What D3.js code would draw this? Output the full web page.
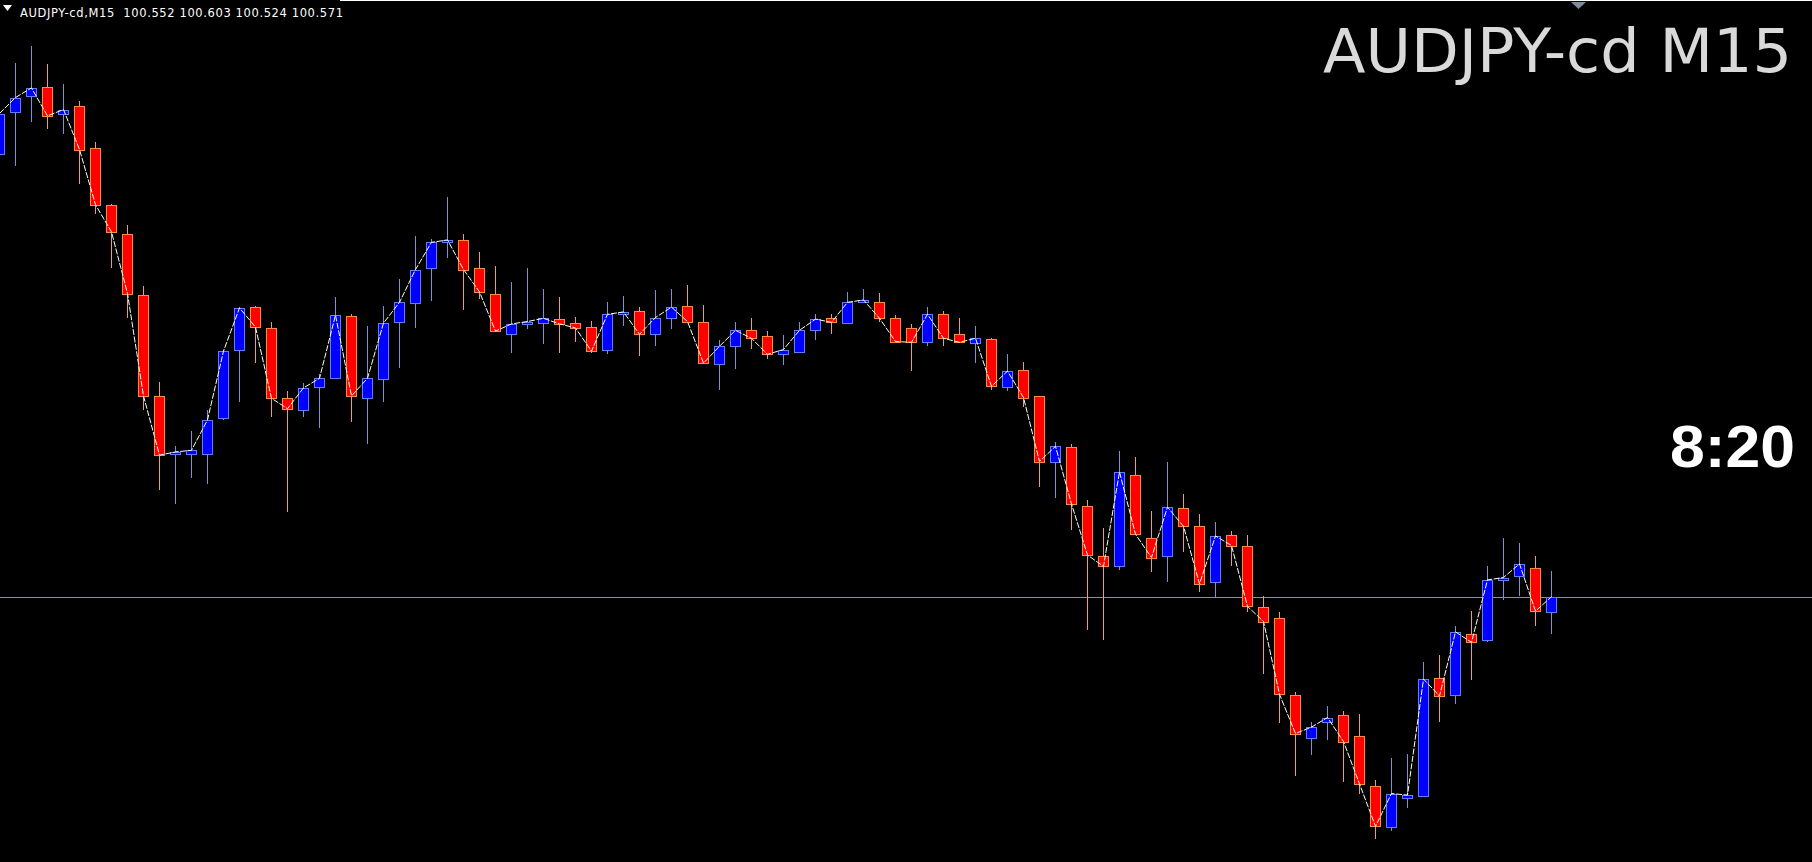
<!DOCTYPE html>
<html>
<head>
<meta charset="utf-8">
<script src="https://cdn.jsdelivr.net/npm/d3@7/dist/d3.min.js"></script>
<style>
  html, body { margin: 0; padding: 0; background: #000; overflow: hidden; }
  svg { display: block; }
</style>
</head>
<body>
<svg id="chart" width="1812" height="862"></svg>
<script>
// ---- data (AUDJPY-cd, M15) ----
const symbol = "AUDJPY-cd";
const timeframe = "M15";
const clockText = "8:20";
const opens = [101.124,101.177,101.197,101.208,101.174,101.184,101.132,101.061,101.024,100.948,
  100.822,100.749,100.749,100.750,100.794,100.879,100.933,100.907,100.820,100.805,
  100.833,100.845,100.922,100.820,100.843,100.914,100.938,100.982,101.015,101.017,
  100.982,100.950,100.899,100.912,100.913,100.918,100.913,100.908,100.879,100.925,
  100.928,100.900,100.919,100.934,100.914,100.862,100.884,100.905,100.897,100.875,
  100.877,100.904,100.919,100.913,100.940,100.940,100.919,100.907,100.890,100.924,
  100.899,100.888,100.893,100.833,100.854,100.822,100.740,100.758,100.685,100.622,
  100.610,100.723,100.645,100.622,100.682,100.660,100.589,100.648,100.634,100.558,
  100.545,100.448,100.394,100.415,100.423,100.397,100.335,100.283,100.320,100.322,
  100.469,100.448,100.525,100.517,100.592,100.597,100.607,100.552];
const highs = [101.182,101.238,101.259,101.237,101.212,101.191,101.139,101.062,101.036,100.960,
  100.839,100.760,100.778,100.804,100.879,100.933,100.934,100.914,100.828,100.838,
  100.849,100.946,100.924,100.909,100.934,100.968,101.022,101.018,101.071,101.024,
  101.002,100.984,100.964,100.982,100.956,100.946,100.921,100.916,100.940,100.947,
  100.933,100.954,100.956,100.961,100.936,100.892,100.914,100.919,100.903,100.898,
  100.914,100.924,100.925,100.952,100.956,100.951,100.923,100.912,100.933,100.928,
  100.919,100.909,100.894,100.875,100.864,100.822,100.765,100.762,100.692,100.657,
  100.753,100.746,100.678,100.740,100.699,100.674,100.664,100.653,100.648,100.572,
  100.552,100.452,100.415,100.435,100.428,100.425,100.342,100.370,100.375,100.490,
  100.498,100.535,100.553,100.610,100.645,100.638,100.622,100.603];
const lows = [101.119,101.110,101.165,101.156,101.150,101.087,101.049,100.982,100.919,100.805,
  100.705,100.687,100.719,100.712,100.792,100.815,100.863,100.796,100.677,100.796,
  100.782,100.844,100.790,100.762,100.814,100.857,100.907,100.941,100.995,100.929,
  100.943,100.903,100.876,100.906,100.887,100.876,100.890,100.876,100.875,100.910,
  100.872,100.884,100.906,100.915,100.863,100.829,100.856,100.881,100.868,100.861,
  100.876,100.892,100.899,100.912,100.938,100.914,100.890,100.853,100.884,100.885,
  100.889,100.863,100.830,100.828,100.808,100.708,100.694,100.654,100.530,100.517,
  100.605,100.649,100.602,100.589,100.627,100.577,100.569,100.610,100.552,100.474,
  100.413,100.347,100.373,100.392,100.340,100.324,100.268,100.278,100.307,100.322,
  100.414,100.437,100.467,100.515,100.567,100.572,100.535,100.524];
const closes = [101.175,101.195,101.207,101.172,101.180,101.130,101.061,101.027,100.950,100.822,
  100.748,100.752,100.754,100.792,100.878,100.932,100.908,100.819,100.806,100.832,
  100.844,100.923,100.822,100.844,100.913,100.939,100.980,101.014,101.017,100.980,
  100.952,100.903,100.912,100.915,100.919,100.912,100.907,100.878,100.924,100.927,
  100.899,100.920,100.933,100.915,100.863,100.884,100.904,100.894,100.874,100.880,
  100.904,100.918,100.914,100.939,100.942,100.919,100.890,100.889,100.924,100.894,
  100.889,100.894,100.834,100.853,100.820,100.740,100.759,100.687,100.623,100.609,
  100.727,100.649,100.620,100.683,100.659,100.587,100.647,100.635,100.559,100.540,
  100.449,100.400,100.408,100.420,100.390,100.337,100.284,100.325,100.323,100.468,
  100.447,100.527,100.514,100.592,100.595,100.612,100.553,100.571];
const priceFmt = d3.format(".3f");

// ---- layout ----
const W = 1812, H = 862;
const n = closes.length;
const candles = closes.map((c, i) => ({ i, o: opens[i], h: highs[i], l: lows[i], c }));
const last = candles[n - 1];

const svg = d3.select("#chart");
svg.append("rect").attr("width", W).attr("height", H).attr("fill", "#000");

const x = d3.scaleLinear().domain([0, n - 1]).range([-0.5, 16 * (n - 1) - 0.5]);
const y = d3.scaleLinear().domain([100.2394, 101.3169]).range([H, 0]);

const bull = { fill: "#0000ff", stroke: "#5f7dff", wick: "#7b92d6" };
const bear = { fill: "#ff0000", stroke: "#ff8c3a", wick: "#e9a063" };
const col = d => d.c >= d.o ? bull : bear;

// top border
svg.append("line").attr("x1", 340).attr("x2", W).attr("y1", 0.5).attr("y2", 0.5)
  .attr("stroke", "#ffffff").attr("stroke-width", 1);
// shift marker triangle
svg.append("path").attr("d", "M1571,2 L1586,2 L1578.5,9 Z").attr("fill", "#7d8c9c");

// bid line
const bidY = Math.round(y(last.c)) + 0.5;
svg.append("line").attr("x1", 0).attr("x2", W).attr("y1", bidY).attr("y2", bidY)
  .attr("stroke", "#8a91a3").attr("stroke-width", 1).attr("shape-rendering", "crispEdges");

const g = svg.append("g").attr("shape-rendering", "crispEdges");

// wicks
g.selectAll("line.wick").data(candles).join("line")
  .attr("class", "wick")
  .attr("x1", d => x(d.i)).attr("x2", d => x(d.i))
  .attr("y1", d => Math.round(y(d.h))).attr("y2", d => Math.round(y(d.l)))
  .attr("stroke", d => col(d).wick).attr("stroke-width", 1);

// bodies
g.selectAll("rect.body").data(candles).join("rect")
  .attr("class", "body")
  .attr("x", d => x(d.i) - 5)
  .attr("y", d => Math.round(y(Math.max(d.o, d.c))) + 0.5)
  .attr("width", 10)
  .attr("height", d => Math.max(Math.round(y(Math.min(d.o, d.c))) - Math.round(y(Math.max(d.o, d.c))), 1))
  .attr("fill", d => col(d).fill)
  .attr("stroke", d => col(d).stroke).attr("stroke-width", 1);

// close line
svg.append("path").datum(candles)
  .attr("d", d3.line().x(d => x(d.i)).y(d => y(d.c)))
  .attr("fill", "none").attr("stroke", "#ffffff").attr("stroke-width", 1)
  .attr("stroke-dasharray", "6,1.5");

// header
svg.append("path").attr("d", "M3,5 L12,5 L7.5,11 Z").attr("fill", "#ffffff");
svg.append("text").attr("x", 20).attr("y", 17)
  .attr("font-family", "DejaVu Sans, sans-serif").attr("font-size", 11.5)
  .attr("fill", "#ffffff").style("white-space", "pre")
  .attr("textLength", 323).attr("lengthAdjust", "spacing")
  .text(`${symbol},${timeframe}  ${priceFmt(last.o)} ${priceFmt(last.h)} ${priceFmt(last.l)} ${priceFmt(last.c)}`);

// title
svg.append("text").attr("x", 1323).attr("y", 72)
  .attr("font-family", "DejaVu Sans, Verdana, sans-serif").attr("font-size", 60)
  .attr("textLength", 469).attr("lengthAdjust", "spacingAndGlyphs")
  .attr("fill", "#d9d9d9").text(`${symbol} ${timeframe}`);

// clock
svg.append("text").attr("x", 1670).attr("y", 467)
  .attr("font-family", "Liberation Sans, Arial, sans-serif").attr("font-weight", "bold")
  .attr("font-size", 59).attr("textLength", 125).attr("lengthAdjust", "spacingAndGlyphs")
  .attr("fill", "#ffffff").text(clockText);
</script>
</body>
</html>
